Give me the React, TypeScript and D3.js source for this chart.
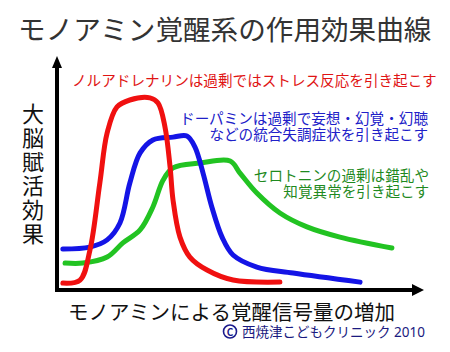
import React from "react";
import * as d3 from "d3";

// curve points (x: signal amount 0-100, y: effect 0-100)
const noradrenaline: [number, number][] = [
  [1.6, 3.0], [6.3, 4.3], [9.0, 17.2], [11.7, 46.1], [13.7, 67.7], [16.4, 78.9],
  [19.9, 81.9], [25.4, 82.8], [27.6, 80.6], [29.5, 70.3], [30.9, 53.0], [31.7, 38.8],
  [33.6, 22.8], [36.3, 14.2], [41.0, 8.6], [48.1, 4.3], [60.9, 3.4],
];
const dopamine: [number, number][] = [
  [1.6, 17.7], [9.0, 18.5], [13.7, 21.6], [17.2, 28.9], [19.9, 46.1], [22.7, 59.1],
  [26.2, 64.7], [31.7, 65.9], [35.5, 66.4], [37.7, 61.6], [39.9, 50.4], [42.3, 35.8],
  [45.1, 22.8], [48.1, 15.1], [54.6, 9.9], [64.5, 7.3], [82.8, 3.4],
];
const serotonin: [number, number][] = [
  [2.2, 11.6], [7.1, 11.6], [13.7, 14.2], [18.0, 20.3], [22.7, 25.9], [26.2, 35.8],
  [29.0, 47.4], [31.7, 52.6], [39.1, 54.7], [47.3, 55.6], [50.0, 50.4], [54.6, 41.8],
  [60.9, 33.2], [68.3, 27.2], [77.3, 22.8], [91.5, 18.1],
];

const title = "モノアミン覚醒系の作用効果曲線";
const yLabel = "大脳賦活効果";
const xLabel = "モノアミンによる覚醒信号量の増加";
const redNote = ["ノルアドレナリンは過剰ではストレス反応を引き起こす"];
const blueNote = ["ドーパミンは過剰で妄想・幻覚・幻聴", "などの統合失調症状を引き起こす"];
const greenNote = ["セロトニンの過剰は錯乱や", "知覚異常を引き起こす"];
const credit = "西焼津こどもクリニック 2010";

const W = 450;
const H = 352;
const font = "'Noto Sans CJK JP', 'Noto Sans', sans-serif";

export default function App() {
  const x = d3.scaleLinear().domain([0, 100]).range([57, 423]);
  const y = d3.scaleLinear().domain([0, 100]).range([290, 58]);

  const line = d3
    .line<[number, number]>()
    .x((d) => x(d[0]))
    .y((d) => y(d[1]))
    .curve(d3.curveCatmullRom.alpha(0.5));

  const x0 = x(0);
  const y0 = y(0);
  const xEnd = x(100);
  const yTop = y(100);

  return (
    <div style={{ position: "absolute", left: 0, top: 0, background: "#fff" }}>
      <svg width={W} height={H} style={{ display: "block", fontFamily: font }}>
        <rect width={W} height={H} fill="#fff" />
        <text x={18} y={40} fontSize={27.6} fill="#333">
          {title}
        </text>

        {/* axes */}
        <line x1={x0} y1={y0} x2={x0} y2={yTop + 8} stroke="#000" strokeWidth={4} />
        <line x1={x0 - 2} y1={y0} x2={xEnd - 8} y2={y0} stroke="#000" strokeWidth={4} />
        <polygon
          points={`${x0},${yTop - 2} ${x0 - 5},${yTop + 10} ${x0 + 5},${yTop + 10}`}
          fill="#000"
        />
        <polygon
          points={`${xEnd + 1},${y0} ${xEnd - 11},${y0 - 6} ${xEnd - 11},${y0 + 6}`}
          fill="#000"
        />

        {/* curves */}
        <path d={line(serotonin) ?? ""} fill="none" stroke="#22c322" strokeWidth={5} strokeLinecap="round" strokeLinejoin="round" />
        <path d={line(dopamine) ?? ""} fill="none" stroke="#1414e6" strokeWidth={5} strokeLinecap="round" strokeLinejoin="round" />
        <path d={line(noradrenaline) ?? ""} fill="none" stroke="#f01010" strokeWidth={5} strokeLinecap="round" strokeLinejoin="round" />

        {/* notes */}
        <text fontSize={14.6} fill="#e01414">
          {redNote.map((t, i) => (
            <tspan key={t} x={72} y={86 + i * 16}>
              {t}
            </tspan>
          ))}
        </text>
        <text fontSize={14.6} fill="#2020c8" textAnchor="end">
          {blueNote.map((t, i) => (
            <tspan key={t} x={428} y={124 + i * 16}>
              {t}
            </tspan>
          ))}
        </text>
        <text fontSize={14.6} fill="#1f8a1f" textAnchor="end">
          {greenNote.map((t, i) => (
            <tspan key={t} x={429} y={181 + i * 15.5}>
              {t}
            </tspan>
          ))}
        </text>

        {/* y label, vertical */}
        <text
          x={33}
          y={103}
          fontSize={22}
          fill="#111"
          style={{ writingMode: "vertical-rl", letterSpacing: "2px" }}
        >
          {yLabel}
        </text>

        <text x={68} y={319.5} fontSize={20.5} fill="#111">
          {xLabel}
        </text>

        <g>
          <circle cx={230} cy={331.5} r={6.5} fill="none" stroke="#1a1a8c" strokeWidth={1.6} />
          <text x={230} y={331.5} fontSize={10} fill="#1a1a8c" textAnchor="middle" dominantBaseline="central" fontWeight="bold">
            C
          </text>
          <text
            x={425}
            y={337}
            fontSize={13.5}
            fill="#1a1a80"
            textAnchor="end"
            style={{ fontFamily: "'Noto Sans', 'Noto Sans CJK JP', sans-serif" }}
          >
            {credit}
          </text>
        </g>
      </svg>
    </div>
  );
}
